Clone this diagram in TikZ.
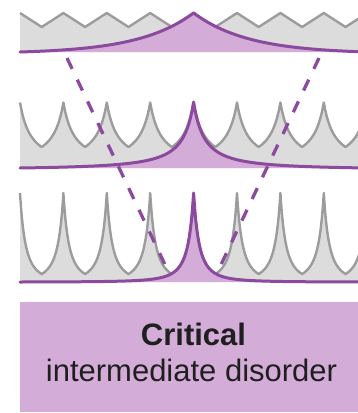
\documentclass[tikz,border=0pt]{standalone}
\usepackage{fontspec}
\setmainfont{Liberation Sans}
\definecolor{plum}{HTML}{8C4A9E}
\definecolor{lilac}{HTML}{D3ADD8}
\definecolor{ashfill}{HTML}{DCDCDC}
\definecolor{ashline}{HTML}{9C9C9C}
\begin{document}
\begin{tikzpicture}[x=1pt,y=-1pt,
  declare function={
    % normalised power-law cusp between two neighbouring sites (half period 21.7)
    lobe(\vv,\ww,\zz)=(1/pow(1+\vv/\ww,\zz)-1/pow(1+21.7/\ww,\zz))/(1-1/pow(1+21.7/\ww,\zz));
    % normalised power-law spike reaching zero at the left edge
    spike(\vv,\ww,\zz)=(1/pow(1+\vv/\ww,\zz)-1/pow(1+173.6/\ww,\zz))/(1-1/pow(1+173.6/\ww,\zz));
    % normalised exponential spike
    espike(\vv)=(exp(-\vv/55)-exp(-173.6/55))/(1-exp(-173.6/55));
  },
  bandfill/.style={fill=ashfill},
  bandline/.style={draw=ashline,line width=2.4pt,line join=round},
  statefill/.style={fill=lilac},
  stateline/.style={draw=plum,line width=3pt,line join=round,line cap=round},
  guide/.style={draw=plum,line width=3.3pt,dash pattern=on 12pt off 12pt},
  critbox/.style={fill=lilac,minimum width=338pt,minimum height=110pt,inner sep=0pt,outer sep=0pt},
  caption/.style={font=\fontsize{31}{36}\selectfont,text=black!88,anchor=base,inner sep=0pt}
]
\useasboundingbox (0,0) rectangle (358,413);

\begin{scope}
\clip (0,0) rectangle (358,413);

% ---------- weak disorder: shallow zigzag potential ----------
\fill[bandfill] (20,52) -- (20,13)
  \foreach \k in {0,...,7}{ -- ({20+43.4*\k+21.7},27) -- ({20+43.4*\k+43.4},13) }
  -- (367.2,52) -- cycle;
\draw[bandline] (20,13)
  \foreach \k in {0,...,7}{ -- ({20+43.4*\k+21.7},27) -- ({20+43.4*\k+43.4},13) };
\fill[statefill] (20,52)
  -- plot[variable=\t,domain=20:193.6,samples=200] ({\t},{52-39*espike(193.6-\t)})
  -- plot[variable=\t,domain=193.6:358,samples=200] ({\t},{52-39*espike(\t-193.6)})
  -- (358,52) -- cycle;
\draw[stateline]
  plot[variable=\t,domain=20:193.6,samples=200] ({\t},{52-39*espike(193.6-\t)})
  -- plot[variable=\t,domain=193.6:358,samples=200] ({\t},{52-39*espike(\t-193.6)});

% ---------- intermediate: rounded cusps ----------
\fill[bandfill] (20,168)
  \foreach \k in {0,...,7}{ -- plot[variable=\t,domain=0:43.4,samples=61]
     ({20+43.4*\k+\t},{147-44.5*lobe(min(\t,43.4-\t),15,1.39)}) }
  -- (367.2,168) -- cycle;
\draw[bandline] (20,102.5)
  \foreach \k in {0,...,7}{ -- plot[variable=\t,domain=0:43.4,samples=61]
     ({20+43.4*\k+\t},{147-44.5*lobe(min(\t,43.4-\t),15,1.39)}) };
\fill[statefill] (20,168)
  -- plot[variable=\t,domain=20:193.6,samples=250] ({\t},{168-66*spike(193.6-\t,15,1.39)})
  -- plot[variable=\t,domain=193.6:358,samples=250] ({\t},{168-66*spike(\t-193.6,15,1.39)})
  -- (358,168) -- cycle;
\draw[stateline]
  plot[variable=\t,domain=20:193.6,samples=250] ({\t},{168-66*spike(193.6-\t,15,1.39)})
  -- plot[variable=\t,domain=193.6:358,samples=250] ({\t},{168-66*spike(\t-193.6,15,1.39)});

% ---------- strong disorder: deep sharp cusps ----------
\fill[bandfill] (20,282)
  \foreach \k in {0,...,7}{ -- plot[variable=\t,domain=0:43.4,samples=81]
     ({20+43.4*\k+\t},{274-81*lobe(min(\t,43.4-\t),13,2.37)}) }
  -- (367.2,282) -- cycle;
\draw[bandline] (20,193)
  \foreach \k in {0,...,7}{ -- plot[variable=\t,domain=0:43.4,samples=81]
     ({20+43.4*\k+\t},{274-81*lobe(min(\t,43.4-\t),13,2.37)}) };
\fill[statefill] (20,282)
  -- plot[variable=\t,domain=20:193.6,samples=300] ({\t},{282-89*spike(193.6-\t,13,2.37)})
  -- plot[variable=\t,domain=193.6:358,samples=300] ({\t},{282-89*spike(\t-193.6,13,2.37)})
  -- (358,282) -- cycle;
\draw[stateline]
  plot[variable=\t,domain=20:193.6,samples=300] ({\t},{282-89*spike(193.6-\t,13,2.37)})
  -- plot[variable=\t,domain=193.6:358,samples=300] ({\t},{282-89*spike(\t-193.6,13,2.37)});
\end{scope}

% ---------- narrowing guides ----------
\coordinate (lt) at (67,58);
\coordinate (lb) at (168,271);
\coordinate (rt) at (319,58);
\coordinate (rb) at (218,271);
\draw[guide] (lt) -- (lb);
\draw[guide] (rt) -- (rb);

% ---------- label box ----------
\node[critbox] (box) at (189,357) {};
\node[caption] (title) at (193.5,345) {\bfseries Critical};
\node[caption] (sub) at (191.5,381) {intermediate disorder};
\end{tikzpicture}
\end{document}
